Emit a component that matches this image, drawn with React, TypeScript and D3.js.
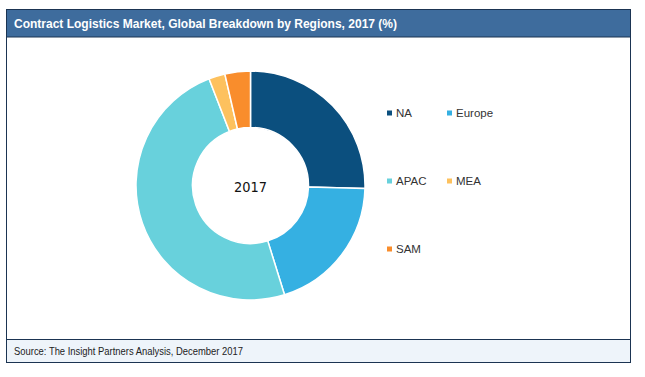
import React from "react";
import * as d3 from "d3";

const categories = ["NA", "Europe", "APAC", "MEA", "SAM"];
const values = [25.4, 19.8, 48.9, 2.3, 3.6];
const colors = ["#0b4f7e", "#35b0e2", "#68d1dc", "#fdc15e", "#f98d2c"];
const centerLabel = "2017";
const title = "Contract Logistics Market, Global Breakdown by Regions, 2017 (%)";
const source = "Source: The Insight Partners Analysis, December 2017";

export default function App() {
  const W = 645, H = 377;
  const cx = 250.5, cy = 185.5, rOuter = 114.5, rInner = 58;
  const pie = d3.pie<number>().sort(null).value((d) => d);
  const arcs = pie(values);
  const arcGen = d3.arc<d3.PieArcDatum<number>>().innerRadius(rInner).outerRadius(rOuter);
  const legendPos = [
    [387, 113], [447, 113],
    [387, 181], [447, 181],
    [387, 249],
  ];
  return (
    <svg width={W} height={H} style={{ position: "absolute", left: 0, top: 0, background: "#fff" }}>
      <rect x={6.5} y={9.5} width={624} height={353} fill="#fff" stroke="#1b3452" strokeWidth={1} />
      <rect x={6.5} y={9.5} width={624} height={27.5} fill="#3e6c9d" stroke="#1b3452" strokeWidth={1} />
      <rect x={6.5} y={339.5} width={624} height={23} fill="#eef4fa" stroke="#1b3452" strokeWidth={1} />
      <text x={14} y={27.5} fill="#fff" fontFamily="'Liberation Sans', Arial" fontWeight="bold" fontSize={13}
        textLength={383} lengthAdjust="spacingAndGlyphs">
        {title}
      </text>
      <text x={14} y={354.5} fill="#222" fontFamily="'Liberation Sans', Arial" fontSize={10.5}
        textLength={229} lengthAdjust="spacingAndGlyphs">
        {source}
      </text>
      <g transform={`translate(${cx},${cy})`}>
        {arcs.map((a, i) => (
          <path key={categories[i]} d={arcGen(a) || ""} fill={colors[i]} stroke="#fff" strokeWidth={1.5} />
        ))}
        <text x={0} y={6} textAnchor="middle" fontFamily="'DejaVu Sans', 'Liberation Sans', Arial" fontSize={14} fill="#111"
          textLength={33} lengthAdjust="spacingAndGlyphs">
          {centerLabel}
        </text>
      </g>
      {categories.map((c, i) => (
        <g key={c} transform={`translate(${legendPos[i][0]},${legendPos[i][1]})`}>
          <rect x={0} y={-2.5} width={5} height={5} fill={colors[i]} />
          <text x={9} y={4} fontFamily="'Liberation Sans', Arial" fontSize={11.5} fill="#333">
            {c}
          </text>
        </g>
      ))}
    </svg>
  );
}
